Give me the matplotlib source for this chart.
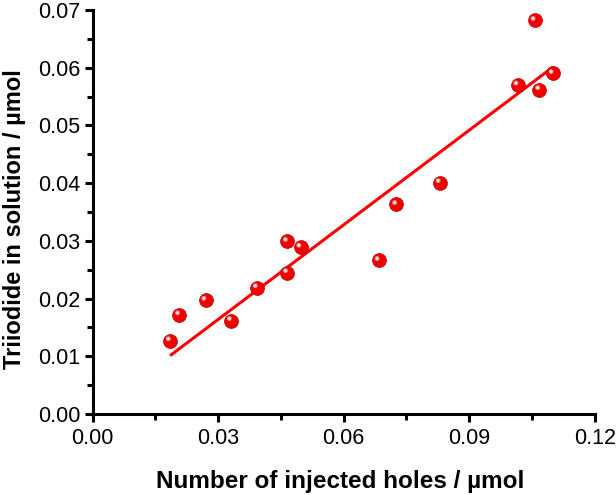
import numpy as np
import matplotlib
matplotlib.use("Agg")
import matplotlib.pyplot as plt
from matplotlib.ticker import MultipleLocator, FormatStrFormatter
from matplotlib.transforms import offset_copy

# Dados
buracos = [0.0185, 0.0207, 0.0270, 0.0331, 0.0393, 0.0465, 0.0465, 0.0497,
           0.0684, 0.0726, 0.0830, 0.1016, 0.1057, 0.1068, 0.1100]
triiodeto = [0.0127, 0.0172, 0.0197, 0.0162, 0.0219, 0.0245, 0.0299, 0.0289,
             0.0266, 0.0363, 0.0401, 0.0570, 0.0682, 0.0562, 0.0590]

plt.rcParams["font.family"] = ["Liberation Sans", "DejaVu Sans"]

fig = plt.figure(figsize=(6.16, 4.95), dpi=100, facecolor="white")
ax = fig.add_axes([92.7 / 616, 1 - 414 / 495, (594.7 - 92.7) / 616, (414 - 10) / 495])

# Ajuste linear passando pela origem
x = np.array(buracos)
y = np.array(triiodeto)
inclinacao = np.sum(x * y) / np.sum(x * x)
xs = np.array([x.min(), x.max()])
ax.plot(xs, inclinacao * xs, color="red", lw=2.2, zorder=2, solid_capstyle="butt")

# Pontos (esferas vermelhas com brilho)
ax.scatter(x, y, s=100, color="#f20000", edgecolors="#b80000",
           linewidths=0.5, zorder=3)
brilho = offset_copy(ax.transData, fig=fig, x=-1.3, y=1.4, units="points")
ax.scatter(x, y, s=12, color="#ff9c9c", edgecolors="none",
           transform=brilho, zorder=4)
ax.scatter(x, y, s=3, color="white", edgecolors="none",
           transform=brilho, zorder=5)

ax.set_xlim(0, 0.12)
ax.set_ylim(0, 0.07)
ax.xaxis.set_major_locator(MultipleLocator(0.03))
ax.xaxis.set_minor_locator(MultipleLocator(0.015))
ax.yaxis.set_major_locator(MultipleLocator(0.01))
ax.yaxis.set_minor_locator(MultipleLocator(0.005))
ax.xaxis.set_major_formatter(FormatStrFormatter("%.2f"))
ax.yaxis.set_major_formatter(FormatStrFormatter("%.2f"))

for lado in ["top", "right"]:
    ax.spines[lado].set_visible(False)
for lado in ["left", "bottom"]:
    ax.spines[lado].set_linewidth(2.2)

ax.tick_params(which="major", direction="out", length=6, width=2.2,
               labelsize=15.5)
ax.tick_params(axis="x", which="major", pad=4)
ax.tick_params(axis="y", which="major", pad=3)
ax.tick_params(which="minor", direction="out", length=4, width=2.2)

ax.set_xlabel("Number of injected holes / µmol", fontsize=17.5,
              fontweight="bold")
ax.set_ylabel("Triiodide in solution / µmol", fontsize=17,
              fontweight="bold")
ax.xaxis.set_label_coords(0.4926, -0.138)
ax.yaxis.set_label_coords(-0.132, 0.483)

fig.savefig("out.png", dpi=100, facecolor="white")
